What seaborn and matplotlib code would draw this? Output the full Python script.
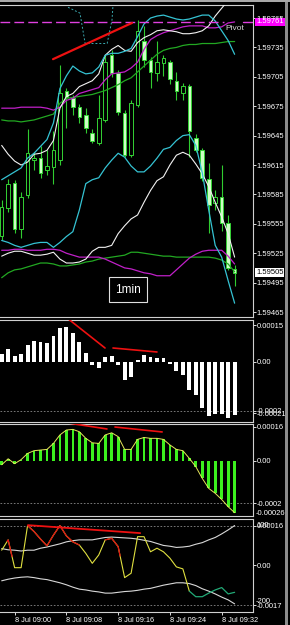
import numpy as np
import matplotlib
matplotlib.use("Agg")
import matplotlib.pyplot as plt
import seaborn as sns
from matplotlib.patches import Rectangle

# ---------------- data ----------------
time_labels = ["8 Jul 09:00", "8 Jul 09:08", "8 Jul 09:16", "8 Jul 09:24", "8 Jul 09:32"]
time_label_bars = [2, 10, 18, 26, 34]

opens = [1.59543, 1.59571, 1.59597, 1.59550, 1.59584, 1.59620, 1.59622, 1.59610, 1.59613, 1.59620,
         1.59691, 1.59683, 1.59674, 1.59666, 1.59648, 1.59637, 1.59661, 1.59727, 1.59709, 1.59668,
         1.59625, 1.59676, 1.59742, 1.59722, 1.59709, 1.59719, 1.59720, 1.59701, 1.59689, 1.59696,
         1.59643, 1.59630, 1.59601, 1.59576, 1.59582, 1.59556, 1.59509]
highs = [1.59579, 1.59601, 1.59600, 1.59587, 1.59652, 1.59628, 1.59634, 1.59630, 1.59650, 1.59717,
         1.59694, 1.59686, 1.59677, 1.59673, 1.59652, 1.59686, 1.59727, 1.59732, 1.59712, 1.59671,
         1.59681, 1.59763, 1.59757, 1.59725, 1.59742, 1.59727, 1.59722, 1.59710, 1.59699, 1.59698,
         1.59647, 1.59632, 1.59617, 1.59589, 1.59615, 1.59564, 1.59513]
lows = [1.59538, 1.59567, 1.59546, 1.59541, 1.59581, 1.59610, 1.59602, 1.59605, 1.59596, 1.59615,
        1.59653, 1.59666, 1.59658, 1.59648, 1.59637, 1.59635, 1.59659, 1.59705, 1.59666, 1.59623,
        1.59623, 1.59674, 1.59715, 1.59694, 1.59701, 1.59706, 1.59698, 1.59681, 1.59681, 1.59623,
        1.59628, 1.59599, 1.59546, 1.59569, 1.59548, 1.59508, 1.59492]
closes = [1.59572, 1.59596, 1.59550, 1.59582, 1.59627, 1.59622, 1.59607, 1.59614, 1.59630, 1.59689,
          1.59684, 1.59674, 1.59664, 1.59653, 1.59640, 1.59663, 1.59720, 1.59709, 1.59669, 1.59625,
          1.59678, 1.59752, 1.59722, 1.59710, 1.59720, 1.59724, 1.59703, 1.59691, 1.59696, 1.59650,
          1.59630, 1.59602, 1.59574, 1.59582, 1.59556, 1.59510, 1.59505]

band_upper = [1.59600, 1.59604, 1.59608, 1.59612, 1.59622, 1.59627, 1.59634, 1.59641, 1.59658, 1.59693,
              1.59706, 1.59716, 1.59711, 1.59708, 1.59709, 1.59715, 1.59727, 1.59729, 1.59729, 1.59731,
              1.59734, 1.59746, 1.59759, 1.59765, 1.59767, 1.59768, 1.59766, 1.59764, 1.59763, 1.59764,
              1.59766, 1.59768, 1.59768, 1.59762, 1.59752, 1.59742, 1.59728]
band_lower = [1.59538, 1.59536, 1.59533, 1.59531, 1.59533, 1.59535, 1.59536, 1.59536, 1.59531, 1.59536,
              1.59542, 1.59547, 1.59569, 1.59596, 1.59600, 1.59602, 1.59612, 1.59620, 1.59627, 1.59623,
              1.59614, 1.59608, 1.59608, 1.59614, 1.59622, 1.59631, 1.59633, 1.59640, 1.59645, 1.59646,
              1.59635, 1.59607, 1.59569, 1.59533, 1.59521, 1.59497, 1.59474]
white_fast = [1.59635, 1.59626, 1.59619, 1.59615, 1.59618, 1.59626, 1.59627, 1.59630, 1.59640, 1.59673,
              1.59685, 1.59688, 1.59695, 1.59698, 1.59701, 1.59708, 1.59727, 1.59733, 1.59737, 1.59732,
              1.59731, 1.59740, 1.59745, 1.59748, 1.59752, 1.59753, 1.59752, 1.59751, 1.59749, 1.59749,
              1.59750, 1.59752, 1.59757, 1.59767, 1.59775, 1.59783, 1.59793]
white_slow = [1.59522, 1.59525, 1.59527, 1.59527, 1.59525, 1.59523, 1.59523, 1.59524, 1.59526, 1.59519,
              1.59515, 1.59515, 1.59516, 1.59519, 1.59527, 1.59531, 1.59531, 1.59533, 1.59545, 1.59553,
              1.59560, 1.59564, 1.59577, 1.59589, 1.59599, 1.59603, 1.59615, 1.59625, 1.59628, 1.59625,
              1.59616, 1.59606, 1.59593, 1.59577, 1.59562, 1.59545, 1.59521]
magenta_high = [1.59673, 1.59673, 1.59673, 1.59674, 1.59674, 1.59674, 1.59674, 1.59673, 1.59671, 1.59674,
                1.59681, 1.59683, 1.59688, 1.59690, 1.59692, 1.59694, 1.59702, 1.59708, 1.59709, 1.59710,
                1.59714, 1.59720, 1.59733, 1.59743, 1.59747, 1.59750, 1.59752, 1.59754, 1.59756, 1.59757,
                1.59757, 1.59757, 1.59755, 1.59755, 1.59756, 1.59760, 1.59761]
magenta_low = [1.59528, 1.59528, 1.59529, 1.59529, 1.59528, 1.59528, 1.59528, 1.59529, 1.59529, 1.59528,
               1.59525, 1.59523, 1.59521, 1.59521, 1.59521, 1.59521, 1.59519, 1.59516, 1.59513, 1.59510,
               1.59509, 1.59507, 1.59505, 1.59504, 1.59502, 1.59502, 1.59502, 1.59508, 1.59514, 1.59520,
               1.59524, 1.59527, 1.59528, 1.59528, 1.59528, 1.59522, 1.59514]
green_high = [1.59661, 1.59660, 1.59660, 1.59659, 1.59660, 1.59661, 1.59663, 1.59665, 1.59667, 1.59678,
              1.59683, 1.59684, 1.59685, 1.59686, 1.59687, 1.59689, 1.59691, 1.59694, 1.59697, 1.59701,
              1.59704, 1.59710, 1.59716, 1.59722, 1.59728, 1.59732, 1.59734, 1.59735, 1.59737, 1.59738,
              1.59738, 1.59739, 1.59739, 1.59739, 1.59740, 1.59741, 1.59741]
green_low = [1.59500, 1.59505, 1.59508, 1.59509, 1.59511, 1.59513, 1.59515, 1.59515, 1.59514, 1.59512,
             1.59512, 1.59513, 1.59514, 1.59516, 1.59517, 1.59519, 1.59520, 1.59521, 1.59522, 1.59523,
             1.59526, 1.59526, 1.59525, 1.59524, 1.59523, 1.59522, 1.59522, 1.59521, 1.59521, 1.59521,
             1.59521, 1.59521, 1.59521, 1.59520, 1.59518, 1.59514, 1.59506]
pivot = 1.59761
price_ticks = [1.59765, 1.59735, 1.59705, 1.59675, 1.59645, 1.59615, 1.59585, 1.59555, 1.59525, 1.59495, 1.59465]

# main-panel drawn objects (bar index, price)
trend_x = [7.93, 20.14]
trend_y = [1.59723, 1.59760]
fibo_x = [10.25, 12.1, 12.9, 16.3, 17.05, 17.2]
fibo_y = [1.59776, 1.59770, 1.59739, 1.59739, 1.59763, 1.59778]

macd = [0.000034, 0.000054, 0.000024, 0.000031, 0.000068, 0.000084, 0.000082, 0.000078, 0.000105, 0.000139,
        0.000143, 0.000120, 0.000082, 0.000038, -0.000011, -0.000024, 0.000019, 0.000024, -0.000011, -0.000072,
        -0.000061, 0.000009, 0.000027, 0.000019, 0.000016, 0.000016, -0.000009, -0.000037, -0.000054, -0.000113,
        -0.000136, -0.000188, -0.000222, -0.000213, -0.000213, -0.000227, -0.000218]
macd_tr1_x, macd_tr1_y = [10.09, 15.97], [0.000180, 0.0000571]
macd_tr2_x, macd_tr2_y = [17.2, 24.0], [0.0000571, 0.0000408]

osma = [-0.000019, 0.000009, -0.000014, 0.000005, 0.000034, 0.000047, 0.000050, 0.000053, 0.000081, 0.000121,
        0.000144, 0.000147, 0.000136, 0.000105, 0.000084, 0.000081, 0.000121, 0.000131, 0.000113, 0.000053,
        0.000053, 0.000100, 0.000109, 0.000105, 0.000105, 0.000100, 0.000074, 0.000053, 0.000047, 0.000011,
        -0.000028, -0.000083, -0.000130, -0.000153, -0.000182, -0.000216, -0.000244]
osma_tr1_x, osma_tr1_y = [10.25, 16.27], [0.000177, 0.000149]
osma_tr2_x, osma_tr2_y = [17.51, 24.8], [0.000158, 0.000135]

cci = [38, 64, -6, -6, 100, 85, 66, 49, 76, 100, 74, 59, 51, 30, 5, 26, 64, 68, 47, -31,
       -20, 72, 72, 34, 43, 34, 18, -4, -9, -65, -79, -79, -70, -62, -56, -72, -68]
cci_up = [42, 39, 38, 36, 38, 38, 43, 46, 50, 54, 59, 62, 64, 64, 64, 67, 70, 71, 70, 69,
          68, 66, 63, 60, 55, 50, 48, 45, 46, 48, 53, 57, 64, 70, 79, 89, 100]
cci_dn = [-39, -35, -32, -30, -29, -31, -34, -36, -40, -44, -49, -55, -60, -62, -65, -67, -70, -70, -68, -66,
          -65, -63, -60, -58, -54, -50, -47, -44, -44, -46, -51, -59, -65, -72, -80, -87, -97]
cci_red_spans = [(0.85, 1.6), (4.0, 12.0), (16.0, 18.3)]
cci_green_from = 29
cci_tr_x, cci_tr_y = [4.06, 21.4], [101, 81]

# ---------------- figure ----------------
sns.set_style("dark", {"axes.facecolor": "black", "figure.facecolor": "black"})
plt.rcParams["font.family"] = ["Liberation Sans", "DejaVu Sans"]

W, H = 290, 625
fig = plt.figure(figsize=(W / 100, H / 100), dpi=100)
fig.patch.set_facecolor("black")
XMIN, XMAX = -0.26, 38.84
n = len(closes)
idx = np.arange(n)


def px_axes(x0, y0, x1, y1):
    return fig.add_axes([x0 / W, 1 - y1 / H, (x1 - x0) / W, (y1 - y0) / H])


def style(ax, ylim):
    ax.set_facecolor("black")
    ax.set_xlim(XMIN, XMAX)
    ax.set_ylim(*ylim)
    for s in ["top", "right", "bottom"]:
        ax.spines[s].set_color("#d0d0d0")
        ax.spines[s].set_linewidth(0.8)
    ax.spines["left"].set_visible(False)
    ax.yaxis.tick_right()
    ax.tick_params(axis="y", colors="white", labelcolor="white", length=2, width=0.6,
                   labelsize=5.5, pad=0.8, left=False, right=True)
    ax.tick_params(axis="x", bottom=False, labelbottom=False)
    ax.grid(False)
    ax.set_xlabel("")
    ax.set_ylabel("")


def line(ax, y, color, lw=0.9, x=None, z=5, **kw):
    xx = idx if x is None else x
    sns.lineplot(x=xx, y=y, ax=ax, color=color, linewidth=lw, estimator=None, sort=False, zorder=z, **kw)


def side_label(ax, yval, text, color="white", bg=None, va="center", dy=0):
    kw = dict(xycoords=("axes fraction", "data"), textcoords="offset points", xytext=(2.2, dy),
              ha="left", va=va, fontsize=5.5, color=color, annotation_clip=False, zorder=10)
    if bg is not None:
        kw["bbox"] = dict(boxstyle="square,pad=0.12", fc=bg, ec="none")
    ax.annotate(text, (1.0, yval), **kw)


# ---- main price panel ----
ax = px_axes(0, 5, 253, 317)
for i in idx:
    o, h, l, c = opens[i], highs[i], lows[i], closes[i]
    ax.vlines(i, l, h, color="#30cc30", lw=0.8, zorder=3)
    bottom = min(o, c)
    height = max(abs(c - o), 0.000008)
    fc = "#ccffc4" if c < o else "black"
    ax.add_patch(Rectangle((i - 0.28, bottom), 0.56, height, fc=fc, ec="#34d234", lw=0.7, zorder=4))

line(ax, green_high, "#22a822")
line(ax, green_low, "#22a822")
line(ax, magenta_high, "#c020c8")
line(ax, magenta_low, "#c020c8")
line(ax, white_slow, "#f2f2f2", lw=0.8)
line(ax, white_fast, "#f2f2f2", lw=0.8)
line(ax, band_upper, "#35c3d3")
line(ax, band_lower, "#35c3d3")

ax.plot([XMIN, 34.3], [pivot, pivot], color="#e040e0", lw=1.0, dashes=(7, 3), zorder=6)
ax.plot([37.3, XMAX], [pivot, pivot], color="#e040e0", lw=1.0, zorder=6)
ax.text(34.55, 1.59754, "Pivot", color="#d8d8d8", fontsize=6, ha="left", va="center", zorder=7)
ax.plot(fibo_x, fibo_y, color="#3aa9b0", lw=0.7, ls=(0, (2, 2)), zorder=6)
ax.plot(trend_x, trend_y, color="#ee1111", lw=1.6, zorder=7)

ax.text(19.52, 1.594875, "1min", color="white", fontsize=8.5, ha="center", va="center", zorder=8,
        bbox=dict(boxstyle="square,pad=0.55", fc="black", ec="#e0e0e0", lw=0.8))

style(ax, (1.594599, 1.597783))
ax.set_yticks(price_ticks)
ax.set_yticklabels([f"{p:.5f}" for p in price_ticks])
side_label(ax, pivot, f"{pivot:.5f}", color="white", bg="#ff00ff")
side_label(ax, closes[-1], f"{closes[-1]:.5f}", color="black", bg="white")

# ---- MACD histogram panel ----
ax2 = px_axes(0, 320, 253, 422)
sns.barplot(x=idx, y=macd, ax=ax2, color="white", saturation=1, width=0.6,
            native_scale=True, orient="x", errorbar=None, zorder=3, linewidth=0, edgecolor="none")
ax2.axhline(-0.0002, color="#8a8a8a", lw=0.6, ls=(0, (2, 2)), zorder=2)
ax2.plot(macd_tr1_x, macd_tr1_y, color="#ee1111", lw=1.2, zorder=6)
ax2.plot(macd_tr2_x, macd_tr2_y, color="#ee1111", lw=1.2, zorder=6)
style(ax2, (-0.000245, 0.0001714))
ax2.set_yticks([0.00015, 0.0, -0.0002, -0.00021])
ax2.set_yticklabels(["0.00015", "0.00", "-0.0002", "-0.00021"])

# ---- OsMA panel ----
ax3 = px_axes(0, 424, 253, 516)
sns.barplot(x=idx, y=osma, ax=ax3, color="#3cf01e", saturation=1, width=0.42,
            native_scale=True, orient="x", errorbar=None, zorder=3, linewidth=0, edgecolor="none")
line(ax3, osma, "#e6e65a", lw=0.7)
ax3.axhline(-0.0002, color="#8a8a8a", lw=0.6, ls=(0, (2, 2)), zorder=2)
ax3.plot(osma_tr1_x, osma_tr1_y, color="#ee1111", lw=1.2, zorder=6)
ax3.plot(osma_tr2_x, osma_tr2_y, color="#ee1111", lw=1.2, zorder=6)
style(ax3, (-0.0002596, 0.0001723))
ax3.set_yticks([0.00016, 0.0, -0.0002])
ax3.set_yticklabels(["0.00016", "0.00", "-0.0002"])
side_label(ax3, -0.0002596, "-0.00026", va="bottom", dy=-0.5)

# ---- CCI panel ----
ax4 = px_axes(0, 519, 253, 612)
line(ax4, cci_up, "#d8d8d8", lw=0.8, z=3)
line(ax4, cci_dn, "#d8d8d8", lw=0.8, z=3)
line(ax4, cci[:cci_green_from + 1], "#e0e040", lw=0.8, x=idx[:cci_green_from + 1], z=4)
line(ax4, cci[cci_green_from:], "#22aa77", lw=0.9, x=idx[cci_green_from:], z=4)
for a, b in cci_red_spans:
    xs = np.linspace(a, b, 60)
    ax4.plot(xs, np.interp(xs, idx, cci), color="#dd1111", lw=0.9, zorder=5)
ax4.plot(cci_tr_x, cci_tr_y, color="#ee1111", lw=1.3, zorder=6)
ax4.axhline(100, color="#8a8a8a", lw=0.6, ls=(0, (2, 2)), zorder=2)
ax4.axhline(-100, color="#8a8a8a", lw=0.6, ls=(0, (2, 2)), zorder=2)
style(ax4, (-117.5, 116.5))
ax4.set_yticks([100, 0, -100])
ax4.set_yticklabels(["0.00016", "0.00", "-0.0017"])
side_label(ax4, 100, "100")
side_label(ax4, -100, "-200", dy=2.5)
ax4.set_xticks(time_label_bars)
ax4.set_xticklabels(time_labels, ha="left")
ax4.tick_params(axis="x", bottom=True, labelbottom=True, length=2.5, width=0.6,
                colors="white", labelcolor="white", labelsize=5.3, pad=1.2)

# window frame bits
fig.add_artist(Rectangle((285 / W, 0), 3 / W, 1, transform=fig.transFigure, fc="#8c8c8c", ec="none"))
fig.add_artist(Rectangle((0, 1 - 2 / H), 1, 2 / H, transform=fig.transFigure, fc="#a8a8a8", ec="none"))

fig.savefig("out.png", dpi=100, facecolor="black")
